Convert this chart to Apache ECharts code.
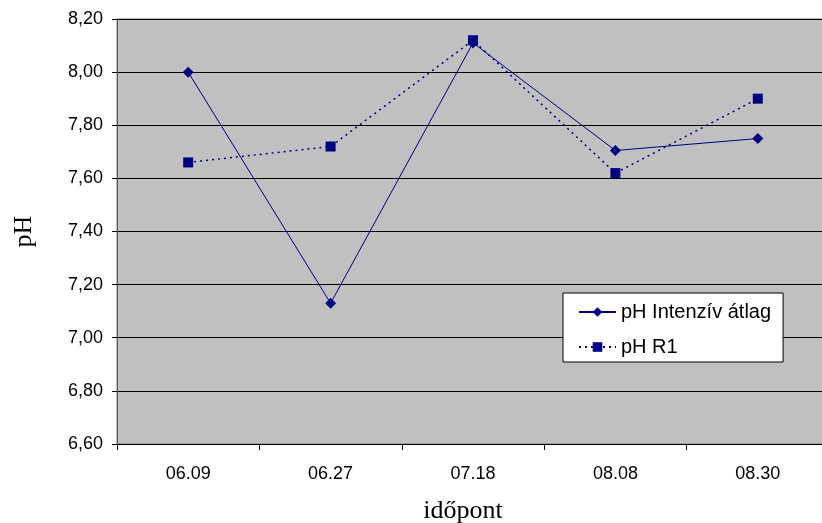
<!DOCTYPE html>
<html>
<head>
<meta charset="utf-8">
<script src="https://cdn.jsdelivr.net/npm/echarts@6/dist/echarts.min.js"></script>
<style>
  html, body { margin: 0; padding: 0; background: #ffffff; }
  #chart { width: 822px; height: 523px; }
</style>
</head>
<body>
<div id="chart"></div>
<script>
// Sampling dates (x axis categories)
const dates = ['06.09', '06.27', '07.18', '08.08', '08.30'];
// pH averaged over the intensive plots
const phIntenziv = [8.00, 7.13, 8.11, 7.705, 7.75];
// pH of plot R1
const phR1 = [7.66, 7.72, 8.12, 7.62, 7.90];
// Value axis range
const yMin = 6.6;
const yMax = 8.2;
const yStep = 0.2;

const navy = '#000080';
const sans = '"Liberation Sans", Arial, sans-serif';
const serif = '"Liberation Serif", "Times New Roman", serif';

const chart = echarts.init(document.getElementById('chart'), null, { renderer: 'canvas' });

chart.setOption({
  animation: false,
  backgroundColor: '#ffffff',
  grid: {
    left: 117,
    top: 19,
    width: 712,
    height: 425,
    outerBoundsMode: 'none',
    containLabel: false,
    show: true,
    backgroundColor: '#c0c0c0',
    borderColor: '#808080',
    borderWidth: 1
  },
  legend: {
    left: 563,
    top: 293,
    orient: 'vertical',
    backgroundColor: '#ffffff',
    borderColor: '#000000',
    borderWidth: 1,
    padding: [9, 12, 5, 15],
    itemWidth: 37,
    itemHeight: 12,
    itemGap: 15,
    textStyle: { fontFamily: sans, fontSize: 20, color: '#000000', lineHeight: 20 },
    data: ['pH Intenzív átlag', 'pH R1']
  },
  xAxis: {
    type: 'category',
    data: dates,
    boundaryGap: true,
    name: 'időpont',
    nameLocation: 'middle',
    nameGap: 54,
    nameTextStyle: { fontFamily: serif, fontSize: 26, color: '#000000', padding: [0, 20, 0, 0] },
    axisLine: { lineStyle: { color: '#000000', width: 1 } },
    axisTick: { show: true, inside: false, length: 6, lineStyle: { color: '#000000' } },
    axisLabel: { fontFamily: sans, fontSize: 18, color: '#000000', margin: 21 },
    splitLine: { show: false }
  },
  yAxis: {
    type: 'value',
    min: yMin,
    max: yMax,
    interval: yStep,
    name: 'pH',
    nameLocation: 'middle',
    nameGap: 80,
    nameTextStyle: { fontFamily: serif, fontSize: 26, color: '#000000' },
    axisLine: { show: true, lineStyle: { color: '#555555', width: 1 } },
    axisTick: { show: true, inside: false, length: 5, lineStyle: { color: '#000000' } },
    axisLabel: {
      fontFamily: sans, fontSize: 18, color: '#000000', margin: 14,
      formatter: v => v.toFixed(2).replace('.', ',')
    },
    splitLine: { show: true, lineStyle: { color: '#000000', width: 1 } }
  },
  series: [
    {
      name: 'pH Intenzív átlag',
      type: 'line',
      data: phIntenziv,
      symbol: 'diamond',
      symbolSize: 11,
      itemStyle: { color: navy },
      lineStyle: { color: navy, width: 1, type: 'solid' },
      z: 3
    },
    {
      name: 'pH R1',
      type: 'line',
      data: phR1,
      symbol: 'rect',
      symbolSize: 10,
      itemStyle: { color: navy },
      lineStyle: { color: navy, width: 1.5, type: [2, 4] },
      z: 2
    }
  ]
});
</script>
</body>
</html>
